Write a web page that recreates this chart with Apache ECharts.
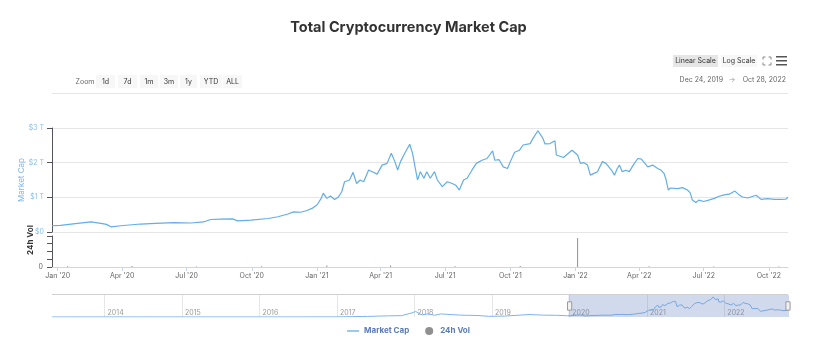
<!DOCTYPE html>
<html><head><meta charset="utf-8">
<script src="https://cdn.jsdelivr.net/npm/echarts@6/dist/echarts.min.js"></script>
<style>html,body{margin:0;padding:0;background:#fff}#c{width:817px;height:360px}</style>
</head><body><div id="c"></div>
<script>
// ---- data (market cap in trillions USD) ----
const mcapDates = ['2019-12-24','2020-01-05','2020-01-26','2020-02-17','2020-03-02','2020-03-10','2020-03-16','2020-03-30','2020-04-27','2020-05-18','2020-06-13','2020-07-07','2020-07-25','2020-08-04','2020-08-18','2020-09-04','2020-09-11','2020-09-30','2020-10-24','2020-11-07','2020-11-21','2020-11-29',
  '2020-12-09','2020-12-18','2020-12-25','2021-01-01','2021-01-07','2021-01-10','2021-01-15','2021-01-20','2021-01-26','2021-01-31','2021-02-05','2021-02-09','2021-02-16','2021-02-21','2021-02-26','2021-03-03','2021-03-08','2021-03-15','2021-03-20','2021-03-27','2021-04-03','2021-04-10','2021-04-16','2021-04-21','2021-04-25','2021-04-29','2021-05-05','2021-05-12','2021-05-16','2021-05-19','2021-05-23','2021-05-27','2021-06-01','2021-06-05','2021-06-10','2021-06-16','2021-06-20','2021-06-27','2021-07-04','2021-07-11','2021-07-16','2021-07-21','2021-07-27','2021-08-01','2021-08-08','2021-08-14','2021-08-22','2021-08-29','2021-09-06','2021-09-09','2021-09-15','2021-09-21','2021-09-27','2021-10-01','2021-10-07','2021-10-14','2021-10-19','2021-10-29','2021-11-02','2021-11-09','2021-11-16','2021-11-19','2021-11-26','2021-12-03','2021-12-05','2021-12-15','2021-12-27',
  '2022-01-04','2022-01-08','2022-01-13','2022-01-18','2022-01-22','2022-01-27','2022-02-01','2022-02-08','2022-02-13','2022-02-17','2022-02-21','2022-02-25','2022-03-01','2022-03-04','2022-03-08','2022-03-13','2022-03-18','2022-03-25','2022-03-30','2022-04-04','2022-04-09','2022-04-13','2022-04-20','2022-04-27','2022-05-02','2022-05-06','2022-05-09','2022-05-12','2022-05-15','2022-05-25','2022-06-01','2022-06-08','2022-06-12','2022-06-15','2022-06-20','2022-06-24','2022-07-01','2022-07-08','2022-07-16','2022-07-23','2022-07-30','2022-08-06','2022-08-14','2022-08-20','2022-08-25','2022-09-01','2022-09-13','2022-09-20','2022-09-29','2022-10-09','2022-10-18','2022-10-25','2022-10-28'];
const mcapValues = [0.18,0.19,0.24,0.29,0.25,0.22,0.15,0.18,0.23,0.25,0.27,0.26,0.29,0.36,0.37,0.38,0.32,0.34,0.39,0.44,0.52,0.58,
  0.57,0.62,0.68,0.78,0.97,1.12,0.97,1.04,0.94,1.00,1.16,1.45,1.50,1.72,1.40,1.50,1.45,1.79,1.74,1.67,1.93,1.98,2.27,2.03,1.79,2.03,2.27,2.53,2.27,1.93,1.50,1.74,1.55,1.74,1.55,1.74,1.50,1.31,1.45,1.40,1.35,1.21,1.50,1.55,1.79,1.98,2.07,2.12,2.34,2.07,2.09,1.88,1.83,2.03,2.30,2.36,2.51,2.55,2.70,2.92,2.70,2.54,2.55,2.63,2.22,2.15,2.36,
  2.22,1.98,2.00,1.93,1.64,1.69,1.74,2.03,1.98,1.88,1.78,1.64,1.83,1.93,1.74,1.78,1.74,1.98,2.12,2.10,1.98,1.88,1.93,1.83,1.78,1.69,1.50,1.21,1.27,1.25,1.28,1.21,1.13,0.92,0.85,0.92,0.88,0.92,0.97,1.03,1.07,1.09,1.18,1.07,1.01,0.98,1.06,0.94,0.96,0.94,0.94,0.95,1.00];
// earlier history shown only in the navigator
const histDates = ['2013-04-28','2013-12-01','2014-06-01','2015-01-01','2016-01-01','2016-12-31','2017-05-25','2017-09-01','2017-11-01','2017-12-20','2018-01-07','2018-02-06','2018-03-05','2018-04-06','2018-05-05','2018-08-01','2018-11-01','2018-12-15','2019-03-01','2019-06-26','2019-09-01','2019-11-01'];
const histValues = [0.0015,0.013,0.008,0.005,0.007,0.017,0.09,0.17,0.2,0.6,0.8,0.3,0.45,0.25,0.45,0.28,0.21,0.1,0.13,0.36,0.27,0.25];
// 24h volume (trillions USD)
const volDates = ['2020-01-15','2020-04-15','2020-07-15','2020-10-15','2021-01-15','2021-04-15','2021-07-15','2021-10-15','2022-01-04','2022-04-15','2022-07-15','2022-10-15'];
const volValues = [0.08,0.12,0.07,0.09,0.2,0.18,0.1,0.12,3.6,0.09,0.07,0.06];
const volAxisLabel = '0';
const quarterTicks = ['2020-01-01','2020-04-01','2020-07-01','2020-10-01','2021-01-01','2021-04-01','2021-07-01','2021-10-01','2022-01-01','2022-04-01','2022-07-01','2022-10-01'];
const quarterLabels = ["Jan '20","Apr '20","Jul '20","Oct '20","Jan '21","Apr '21","Jul '21","Oct '21","Jan '22","Apr '22","Jul '22","Oct '22"];
const yearTicks = ['2014-01-01','2015-01-01','2016-01-01','2017-01-01','2018-01-01','2019-01-01','2020-01-01','2021-01-01','2022-01-01'];
const yearLabels = ['2014','2015','2016','2017','2018','2019','2020','2021','2022'];
const zoomButtons = ['1d','7d','1m','3m','1y','YTD','ALL'];
const rangeFrom = 'Dec 24, 2019', rangeTo = 'Oct 28, 2022';

// ---- helpers ----
const ts = s => { const p = s.split('-').map(Number); return new Date(p[0], p[1]-1, p[2]).getTime(); };
const FONT = 'Inter, "Noto Sans", sans-serif';
const fullStart = ts('2013-04-28'), fullEnd = ts('2022-10-28'), viewStart = ts('2019-12-24');
const qTs = quarterTicks.map(ts), yTs = yearTicks.map(ts);
const mcap = mcapDates.map((d,i)=>[ts(d), mcapValues[i]]);
const hist = histDates.map((d,i)=>[ts(d), histValues[i]]);
const vol = volDates.map((d,i)=>[ts(d), volValues[i]]);
const volMax = Math.max.apply(null, volValues) * 1.07;
const LINE = '#62aee6';

const btnX = [[96,19],[118,19],[140,18],[160,18],[180,17],[200,22],[223,19]];
const graphic = [
  {type:'text', x:85, y:81.5, style:{text:'Zoom', fill:'#666', font:'7px '+FONT, align:'center', verticalAlign:'middle'}},
  {type:'line', shape:{x1:52,y1:93.5,x2:788,y2:93.5}, style:{stroke:'#e6e6e6', lineWidth:1}},
  {type:'rect', shape:{x:673,y:55,width:45,height:12}, style:{fill:'#e6e6e6'}},
  {type:'text', x:695.5, y:61, style:{text:'Linear Scale', fill:'#333', font:'7px '+FONT, align:'center', verticalAlign:'middle'}},
  {type:'rect', shape:{x:721,y:55,width:36,height:12}, style:{fill:'#f7f7f7'}},
  {type:'text', x:739, y:61, style:{text:'Log Scale', fill:'#333', font:'7px '+FONT, align:'center', verticalAlign:'middle'}},
  {type:'text', x:723, y:80, style:{text:rangeFrom, fill:'#666', font:'7px '+FONT, align:'right', verticalAlign:'middle'}},
  {type:'text', x:732, y:80, style:{text:'→', fill:'#999', font:'7px '+FONT, align:'center', verticalAlign:'middle'}},
  {type:'text', x:786, y:80, style:{text:rangeTo, fill:'#666', font:'7px '+FONT, align:'right', verticalAlign:'middle'}},
  {type:'polyline', shape:{points:[[763,59.5],[763,57],[765.5,57]]}, style:{stroke:'#888', fill:null, lineWidth:1}},
  {type:'polyline', shape:{points:[[768.5,57],[771,57],[771,59.5]]}, style:{stroke:'#888', fill:null, lineWidth:1}},
  {type:'polyline', shape:{points:[[763,62.5],[763,65],[765.5,65]]}, style:{stroke:'#888', fill:null, lineWidth:1}},
  {type:'polyline', shape:{points:[[768.5,65],[771,65],[771,62.5]]}, style:{stroke:'#888', fill:null, lineWidth:1}},
  {type:'rect', shape:{x:776,y:56,width:11,height:1.5}, style:{fill:'#555'}},
  {type:'rect', shape:{x:776,y:60,width:11,height:1.5}, style:{fill:'#555'}},
  {type:'rect', shape:{x:776,y:64,width:11,height:1.5}, style:{fill:'#555'}},
  {type:'line', shape:{x1:52,y1:294.5,x2:788,y2:294.5}, style:{stroke:'#d0d0d0', lineWidth:1}, z:10},
  {type:'text', x:31, y:240, rotation:Math.PI/2, style:{text:'24h Vol', fill:'#333', font:'bold 8px '+FONT, align:'center', verticalAlign:'middle'}},
  {type:'text', x:43, y:267, style:{text:volAxisLabel, fill:'#666', font:'7px '+FONT, align:'right', verticalAlign:'middle'}}
];
zoomButtons.forEach((b,i)=>{
  const [x,w] = btnX[i];
  graphic.push({type:'rect', shape:{x:x,y:75,width:w,height:13}, style:{fill:'#f7f7f7'}});
  graphic.push({type:'text', x:x+w/2, y:81.5, style:{text:b, fill:'#333', font:'7px '+FONT, align:'center', verticalAlign:'middle'}});
});

const chart = echarts.init(document.getElementById('c'), null, {renderer:'canvas'});
chart.setOption({
  animation:false,
  backgroundColor:'#fff',
  textStyle:{fontFamily:FONT},
  title:{text:'Total Cryptocurrency Market Cap', left:'center', top:15, textStyle:{fontSize:14.5, fontWeight:'bold', color:'#333', fontFamily:FONT}},
  graphic: graphic,
  legend:{top:322, left:'center', itemWidth:12, itemHeight:8, itemGap:16,
    data:[{name:'Market Cap', icon:'path://M0,0H12V1.3H0Z'},{name:'24h Vol', icon:'circle'}],
    textStyle:{fontSize:8, fontWeight:'bold', color:'#5a7bb5', fontFamily:FONT}},
  grid:[
    {left:52, right:29, top:128, height:104},
    {left:52, right:29, top:236, height:31},
    {left:52, right:29, top:295, height:22}
  ],
  xAxis:[
    {type:'value', gridIndex:0, min:fullStart, max:fullEnd, axisLine:{show:false}, axisTick:{show:false}, axisLabel:{show:false}, splitLine:{show:false}},
    {type:'value', gridIndex:1, min:fullStart, max:fullEnd,
      axisLine:{lineStyle:{color:'#ccd6eb'}},
      axisTick:{show:true, length:4, customValues:qTs, lineStyle:{color:'#ccd6eb'}},
      axisLabel:{customValues:qTs, formatter:v=>{const i=qTs.indexOf(v); return i>=0?quarterLabels[i]:'';}, color:'#666', fontSize:7, margin:5, fontFamily:FONT},
      splitLine:{show:false}},
    {type:'value', gridIndex:2, min:fullStart, max:fullEnd,
      axisLine:{show:false},
      axisTick:{show:false, customValues:yTs},
      axisLabel:{inside:true, customValues:yTs, formatter:v=>{const i=yTs.indexOf(v); return i>=0?yearLabels[i]:'';}, align:'left', padding:[0,0,0,3], color:'#999', fontSize:7, margin:1, fontFamily:FONT},
      splitLine:{show:true, lineStyle:{color:'#e6e6e6'}}}
  ],
  yAxis:[
    {type:'value', gridIndex:0, min:0, max:3, interval:1,
      axisLabel:{formatter:v=>v===0?'$0':'$'+v+' T', color:'#8cc0ec', fontSize:7, margin:8, fontFamily:FONT, showMinLabel:true},
      splitLine:{lineStyle:{color:'#e6e6e6'}},
      name:'Market Cap', nameLocation:'middle', nameGap:26, nameRotate:90, nameMoveOverlap:false,
      nameTextStyle:{color:'#7cb5ec', fontSize:8, fontFamily:FONT}},
    {type:'value', gridIndex:1, min:0, max:volMax, axisLabel:{show:false}, splitLine:{show:false}},
    {type:'value', gridIndex:2, min:0, max:3.2, show:false}
  ],
  dataZoom:[{type:'slider', xAxisIndex:[0,1], filterMode:'none', startValue:viewStart, endValue:fullEnd,
    left:52, right:29, top:295, height:22, showDataShadow:false, showDetail:false, brushSelect:false,
    moveHandleSize:0, backgroundColor:'rgba(0,0,0,0)', borderColor:'transparent', borderRadius:0,
    fillerColor:'rgba(102,133,194,0.3)', handleIcon:'path://M0,0H4V8H0Z', handleSize:'38%',
    handleStyle:{color:'#f2f2f2', borderColor:'#999', borderWidth:1}}],
  series:[
    {name:'Market Cap', type:'line', xAxisIndex:0, yAxisIndex:0, data:mcap, symbol:'none',
      lineStyle:{width:1.2, color:LINE}, itemStyle:{color:LINE}},
    {name:'24h Vol', type:'bar', xAxisIndex:1, yAxisIndex:1, data:vol, barWidth:1, itemStyle:{color:'#8f8f8f'}},
    {name:'Navigator', type:'line', xAxisIndex:2, yAxisIndex:2, data:hist.concat(mcap), symbol:'none', silent:true,
      lineStyle:{width:1, color:'#7cb5ec'}, itemStyle:{color:'#7cb5ec'}}
  ]
});
</script></body></html>
